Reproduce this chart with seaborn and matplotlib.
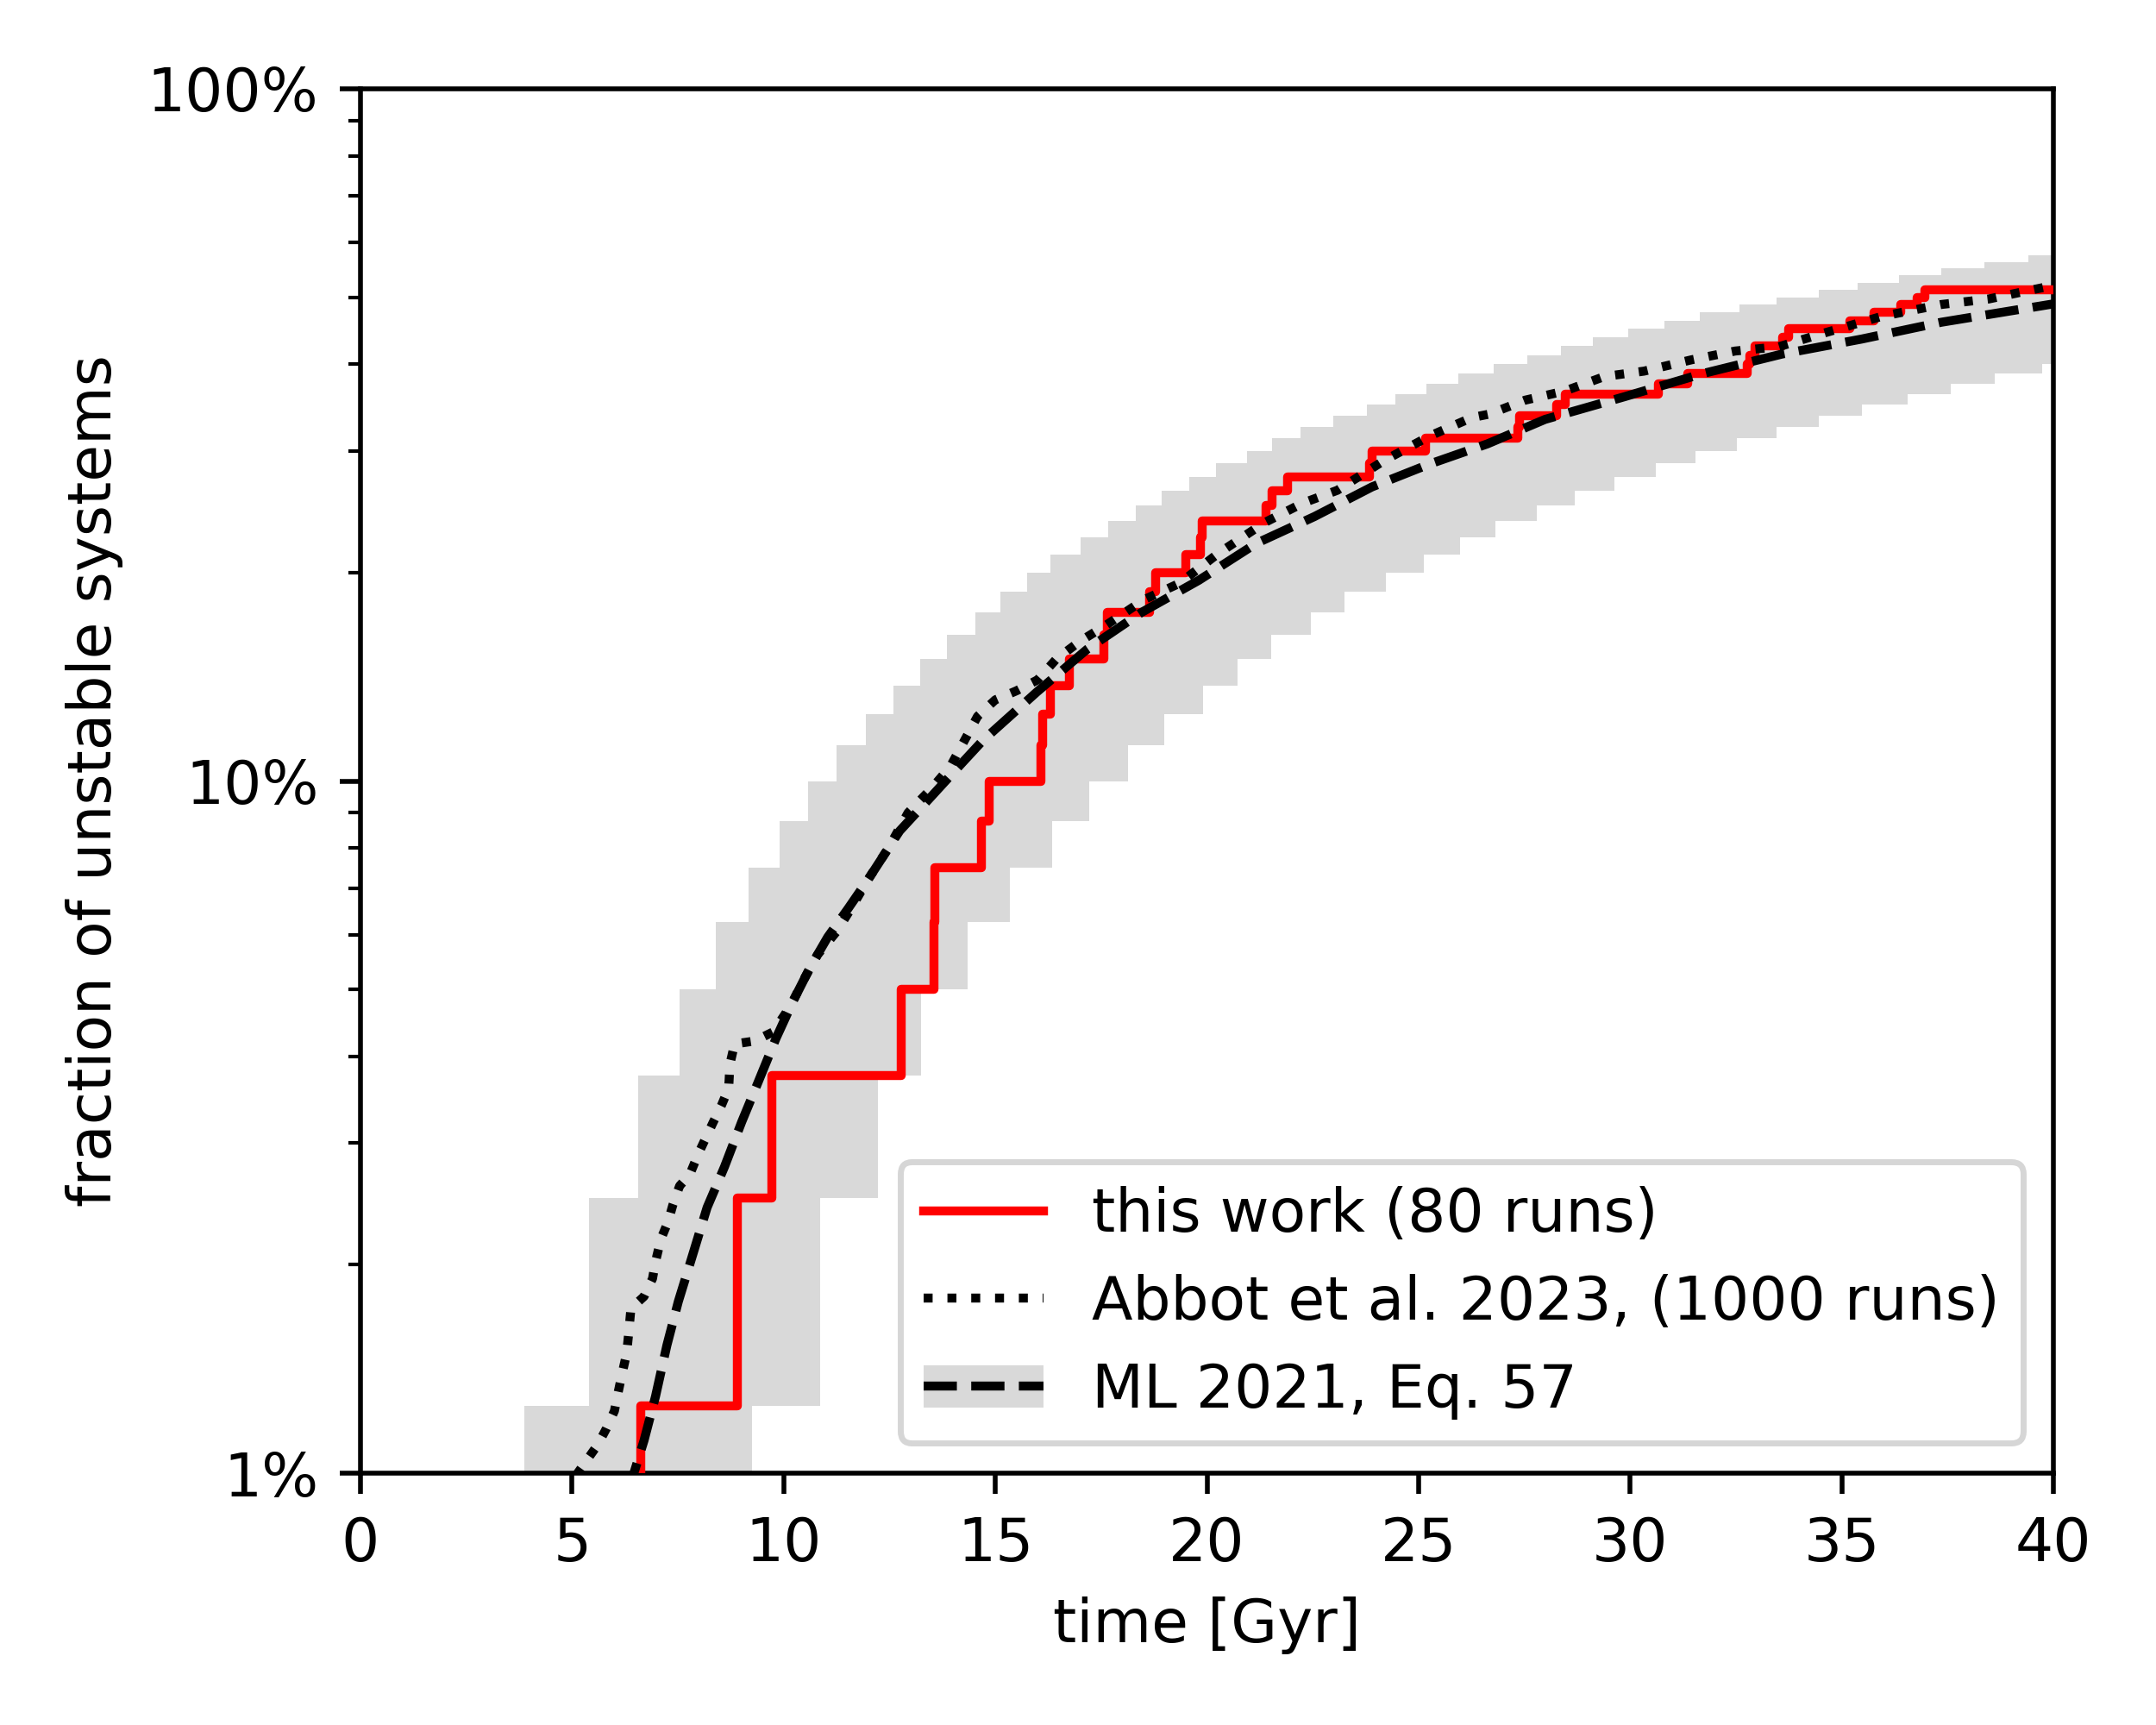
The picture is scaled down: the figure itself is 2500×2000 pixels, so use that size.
import numpy as np
import seaborn as sns
import matplotlib.pyplot as plt
from matplotlib.lines import Line2D
from matplotlib.patches import Patch
from matplotlib.ticker import PercentFormatter, NullFormatter

N_RUNS = 80
FLOOR = 1e-3  # stands in for 0 on the log axis (below the 1% limit)

# this work: time [Gyr] at which the number of unstable runs reaches k
work_t = [6.63, 8.90, 9.73, 12.78, 13.56, 13.58, 14.68, 14.86, 16.07, 16.12,
          16.30, 16.75, 17.56, 17.65, 18.65, 18.78, 19.50, 19.85, 19.88, 21.40,
          21.54, 21.90, 23.85, 23.90, 25.17, 27.34, 27.38, 28.27, 28.46, 30.66,
          31.36, 32.76, 32.82, 32.95, 33.60, 33.75, 35.20, 35.76, 36.40, 36.78,
          36.97]
work_k = list(range(1, 42))

# grey band (ML 2021 spread for 80 runs): step edges, counts out of 80
band_hi_t = [3.88, 5.39, 6.56, 7.53, 8.39, 9.17, 9.90, 10.57, 11.25, 11.95,
             12.60, 13.22, 13.86, 14.52, 15.12, 15.76, 16.31, 17.02, 17.67, 18.31,
             18.93, 19.59, 20.22, 20.95, 21.54, 22.22, 22.99, 23.77, 24.45, 25.18,
             25.95, 26.77, 27.57, 28.37, 29.11, 29.95, 30.80, 31.64, 32.58, 33.46,
             34.45, 35.38, 36.36, 37.35, 38.38, 39.40]
band_hi_k = list(range(1, 47))
band_lo_t = [9.26, 10.86, 12.22, 13.25, 14.35, 15.34, 16.34, 17.22, 18.13, 18.99,
             19.90, 20.73, 21.52, 22.45, 23.26, 24.22, 25.13, 25.99, 26.81, 27.80,
             28.69, 29.63, 30.61, 31.55, 32.53, 33.46, 34.45, 35.47, 36.55, 37.58,
             38.61, 39.73]
band_lo_k = list(range(1, 33))

# Abbot et al. 2023 (1000 runs), percent
abbot_t = [4.90, 5.13, 5.61, 5.81, 6.00, 6.09, 6.19, 6.29, 6.34, 6.39,
           6.70, 6.90, 6.97, 7.10, 7.27, 7.38, 7.54, 7.78, 7.99, 8.33,
           8.53, 8.70, 8.73, 8.84, 9.31, 9.75, 10.16, 10.50, 10.80, 11.25,
           11.59, 11.99, 12.49, 12.94, 13.49, 13.94, 14.58, 15.00, 15.50, 16.00,
           16.44, 16.99, 17.62, 18.53, 19.35, 20.26, 21.35, 22.26, 23.08, 24.17,
           25.26, 26.26, 26.68, 27.52, 28.46, 29.39, 30.33, 31.45, 32.48, 33.51,
           34.54, 35.94, 37.35, 38.47, 40.00]
abbot_pct = [0.92, 1.00, 1.10, 1.16, 1.23, 1.31, 1.40, 1.49, 1.60, 1.73,
             1.80, 1.91, 2.02, 2.18, 2.31, 2.44, 2.60, 2.70, 2.90, 3.21,
             3.40, 3.60, 3.90, 4.17, 4.21, 4.34, 4.73, 5.20, 5.61, 6.06,
             6.54, 7.20, 8.03, 9.00, 9.75, 10.5, 12.4, 13.1, 13.5, 14.0,
             15.0, 15.9, 16.8, 18.3, 19.3, 21.3, 23.6, 25.2, 26.3, 29.0,
             31.5, 33.5, 33.9, 35.5, 36.6, 38.4, 39.1, 40.6, 41.8, 42.4,
             44.3, 46.9, 48.8, 49.7, 52.0]

# ML 2021, Eq. 57, percent
ml_t = [6.30, 6.46, 6.70, 6.97, 7.24, 7.51, 7.82, 8.19, 8.60, 9.01,
        9.41, 9.82, 10.23, 10.64, 11.04, 11.52, 11.99, 12.74, 13.49, 14.24,
        14.71, 15.99, 17.17, 18.44, 19.81, 21.17, 22.54, 23.90, 25.26, 26.63,
        27.99, 29.86, 31.73, 33.60, 35.47, 37.35, 40.00]
ml_pct = [0.93, 1.00, 1.115, 1.29, 1.53, 1.77, 2.04, 2.42, 2.77, 3.22,
          3.69, 4.25, 4.82, 5.40, 5.95, 6.54, 7.20, 8.47, 9.50, 10.66,
          11.45, 13.46, 15.5, 17.5, 19.5, 22.05, 24.1, 26.6, 28.7, 30.7,
          33.3, 35.9, 38.8, 41.4, 43.5, 46.0, 48.9]

labels = ['this work (80 runs)', 'Abbot et al. 2023, (1000 runs)', 'ML 2021, Eq. 57']
band_color = '#d9d9d9'


def frac(k):
    k = np.asarray(k, dtype=float)
    return np.where(k > 0, k / N_RUNS, FLOOR)


def step_on_grid(edges, counts, grid):
    # value of a post-step function at each grid time (0 before first edge)
    idx = np.searchsorted(edges, grid, side='right')
    return np.r_[0, counts][idx]


fig = plt.figure(figsize=(5, 4), dpi=500)
ax = fig.add_axes([0.1672, 0.146, 0.7852, 0.8025])

# band
grid = np.unique(np.r_[0.0, band_hi_t, band_lo_t, 40.0])
hi = frac(step_on_grid(band_hi_t, band_hi_k, grid))
lo = frac(step_on_grid(band_lo_t, band_lo_k, grid))
ax.fill_between(grid, lo, hi, step='post', color=band_color, lw=0, zorder=1)

# this work, step curve
red_x = [0.0] + work_t + [40.0]
red_y = frac([0] + work_k + [work_k[-1]])
sns.lineplot(x=red_x, y=red_y, ax=ax, color='red', lw=1.5, drawstyle='steps-post',
             estimator=None, sort=False, legend=False, zorder=3)

sns.lineplot(x=abbot_t, y=np.array(abbot_pct) / 100, ax=ax, color='black', lw=1.5,
             linestyle=':', estimator=None, sort=False, legend=False, zorder=4)
sns.lineplot(x=ml_t, y=np.array(ml_pct) / 100, ax=ax, color='black', lw=1.5,
             linestyle='--', estimator=None, sort=False, legend=False, zorder=5)

ax.set_yscale('log')
ax.set_xlim(0, 40)
ax.set_ylim(0.01, 1)
ax.set_xticks(np.arange(0, 41, 5))
ax.yaxis.set_major_formatter(PercentFormatter(xmax=1, decimals=0))
ax.yaxis.set_minor_formatter(NullFormatter())
ax.set_xlabel('time [Gyr]')
ax.set_ylabel('fraction of unstable systems')

handles = [
    Line2D([], [], color='red', lw=1.5),
    Line2D([], [], color='black', lw=1.5, linestyle=':'),
    (Patch(facecolor=band_color, edgecolor='none'),
     Line2D([], [], color='black', lw=1.5, linestyle='--')),
]
ax.legend(handles, labels, loc='lower right')

fig.savefig('out.png', dpi=500)
